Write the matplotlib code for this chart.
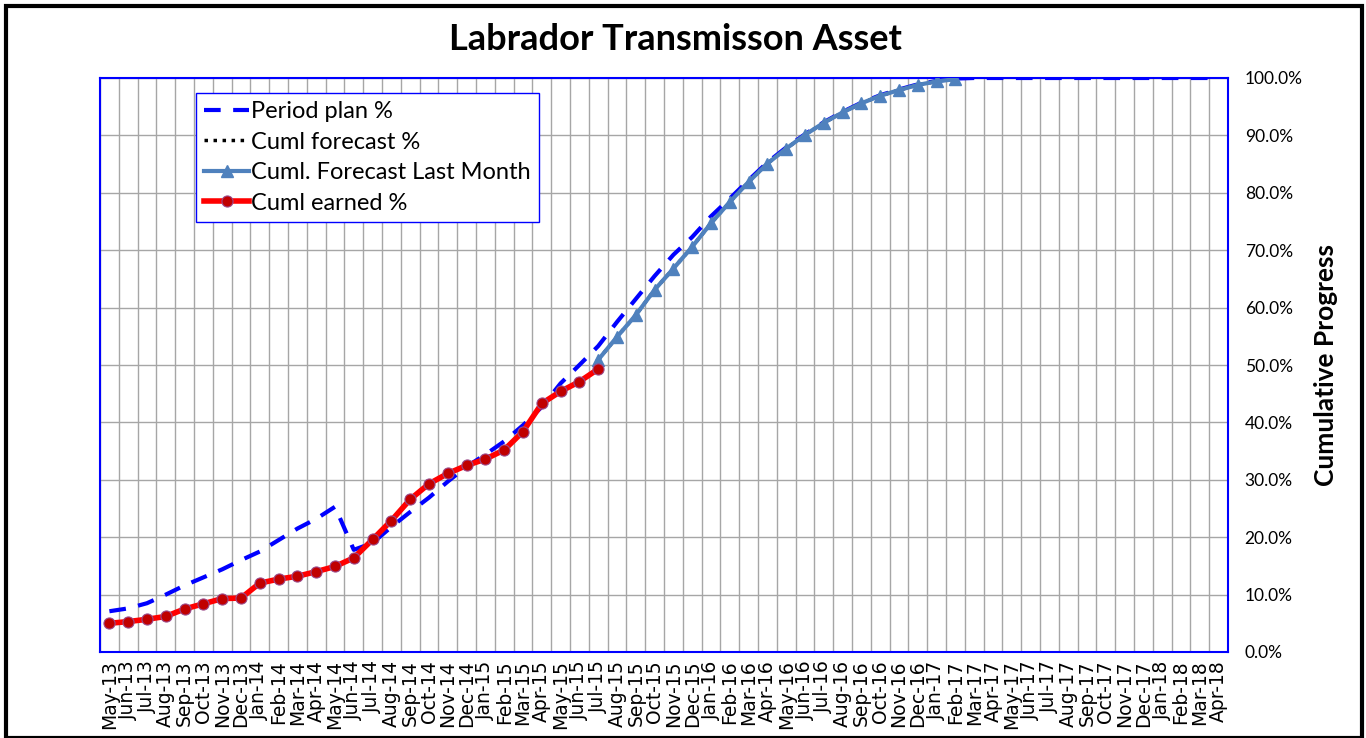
import numpy as np
import matplotlib.pyplot as plt
from matplotlib.patches import Rectangle

# Meses (May-13 .. Apr-18)
meses = ['May-13', 'Jun-13', 'Jul-13', 'Aug-13', 'Sep-13', 'Oct-13', 'Nov-13', 'Dec-13',
         'Jan-14', 'Feb-14', 'Mar-14', 'Apr-14', 'May-14', 'Jun-14', 'Jul-14', 'Aug-14',
         'Sep-14', 'Oct-14', 'Nov-14', 'Dec-14', 'Jan-15', 'Feb-15', 'Mar-15', 'Apr-15',
         'May-15', 'Jun-15', 'Jul-15', 'Aug-15', 'Sep-15', 'Oct-15', 'Nov-15', 'Dec-15',
         'Jan-16', 'Feb-16', 'Mar-16', 'Apr-16', 'May-16', 'Jun-16', 'Jul-16', 'Aug-16',
         'Sep-16', 'Oct-16', 'Nov-16', 'Dec-16', 'Jan-17', 'Feb-17', 'Mar-17', 'Apr-17',
         'May-17', 'Jun-17', 'Jul-17', 'Aug-17', 'Sep-17', 'Oct-17', 'Nov-17', 'Dec-17',
         'Jan-18', 'Feb-18', 'Mar-18', 'Apr-18']

# Period plan % (todos os meses)
plano = [7.1, 7.6, 8.5, 10.0, 11.6, 13.0, 14.4, 16.0, 17.5, 19.5, 21.5, 23.2, 25.3,
         17.8, 19.0, 21.8, 24.4, 26.9, 29.7, 32.3, 34.4, 36.7, 39.5, 42.7, 46.8, 50.0,
         53.3, 57.5, 61.5, 65.5, 69.2, 72.3, 75.9, 79.0, 82.2, 85.3, 87.9, 90.2, 92.3,
         94.1, 95.7, 97.0, 98.0, 98.9, 99.5, 99.9, 100.0, 100.0, 100.0, 100.0, 100.0,
         100.0, 100.0, 100.0, 100.0, 100.0, 100.0, 100.0, 100.0, 100.0]

# Cuml earned % (May-13 .. Jul-15)
realizado = [5.0, 5.3, 5.7, 6.2, 7.5, 8.4, 9.3, 9.4, 12.0, 12.7, 13.2, 14.0, 14.9,
             16.4, 19.6, 22.9, 26.6, 29.3, 31.1, 32.5, 33.6, 35.2, 38.4, 43.3, 45.4,
             47.1, 49.3]

# Cuml. Forecast Last Month % (Jul-15 .. Feb-17)
previsao = [50.9, 54.9, 58.7, 63.1, 66.8, 70.6, 74.7, 78.4, 81.9, 85.1, 87.7, 90.1,
            92.2, 94.0, 95.6, 96.9, 97.9, 98.8, 99.4, 99.8]
inicio_prev = meses.index('Jul-15')

x = np.arange(len(meses))
x_real = x[:len(realizado)]
x_prev = x[inicio_prev:inicio_prev + len(previsao)]

fig = plt.figure(figsize=(13.66, 7.38), dpi=100)
ax = fig.add_axes([100 / 1366, 1 - 652 / 738, 1128 / 1366, 574 / 738])

ax.plot(x, plano, color='#0000ff', lw=3, ls=(0, (4, 3)), zorder=3, label='Period plan %')
ax.plot(x_prev, previsao, color='black', lw=2.5, ls=(0, (1, 1.6)), zorder=3.5,
        label='Cuml forecast %')
ax.plot(x_prev, previsao, color='#4f81bd', lw=3, marker='^', ms=8, zorder=4,
        label='Cuml. Forecast Last Month')
ax.plot(x_real, realizado, color='#ff0000', lw=4, marker='o', ms=8,
        markerfacecolor='#c00000', markeredgecolor='#9b4a8a', markeredgewidth=0.8,
        zorder=5, label='Cuml earned %')

ax.set_xlim(-0.5, len(meses) - 0.5)
ax.set_ylim(0, 100)
ax.set_xticks(x)
ax.set_xticklabels(meses, rotation=90, fontsize=13.5, family='DejaVu Sans')
ax.set_xticks(np.arange(-0.5, len(meses), 1), minor=True)
ax.tick_params(axis='x', which='both', length=0, pad=6)

ax.yaxis.tick_right()
ax.set_yticks(np.arange(0, 101, 10))
ax.set_yticklabels([f'{v:.1f}%' for v in np.arange(0, 101, 10)], fontsize=12.5, family='Lato')
ax.tick_params(axis='y', length=0, pad=12)
ax.yaxis.set_label_position('right')
ax.set_ylabel('Cumulative Progress', fontsize=19, fontweight='bold', family='Lato', labelpad=8)

ax.grid(True, which='minor', axis='x', color='#a6a6a6', lw=1)
ax.grid(True, which='major', axis='y', color='#a6a6a6', lw=1)
ax.set_axisbelow(True)
for s in ax.spines.values():
    s.set_color('#0000ff')
    s.set_linewidth(1.5)

leg = ax.legend(loc='upper left', bbox_to_anchor=(0.085, 0.974), borderaxespad=0,
                fancybox=False, framealpha=1, edgecolor='#0000ff',
                prop={'family': 'Lato', 'size': 17}, handlelength=1.9,
                handletextpad=0.1, labelspacing=0.4, borderpad=0.35)
leg.get_frame().set_linewidth(1)

fig.text(675 / 1366, 1 - 40 / 738, 'Labrador Transmisson Asset', ha='center', va='center',
         fontsize=26, fontweight='bold', family='Lato')

# Moldura
fig.patches.append(Rectangle((6 / 1366, 0), 1356 / 1366, 1 - 6 / 738, transform=fig.transFigure,
                             fill=False, edgecolor='black', lw=3))

fig.savefig('out.png', dpi=100)
